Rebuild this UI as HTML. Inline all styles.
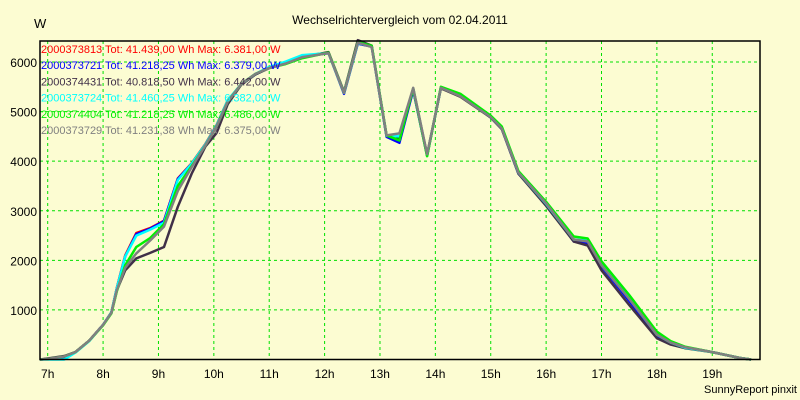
<!DOCTYPE html>
<html><head><meta charset="utf-8"><style>
body{margin:0;background:#fcfcd2;}
svg{display:block;font-family:"Liberation Sans",sans-serif;}
</style></head><body>
<svg id="chart" width="800" height="400">
<rect x="0" y="0" width="800" height="400" fill="#fcfcd2"/>
<text x="400" y="24" text-anchor="middle" font-size="12">Wechselrichtervergleich vom 02.04.2011</text>
<text x="34" y="28" font-size="13">W</text>
<text x="797" y="393" text-anchor="end" font-size="11">SunnyReport pinxit</text>
<g id="grid"></g><g id="series"></g><g id="axes"></g><g id="legend"></g>
</svg>
<script>
const hourTicks=[7,8,9,10,11,12,13,14,15,16,17,18,19];
const valueTicks=[1000,2000,3000,4000,5000,6000];
const times=[6.86,7.0,7.3,7.5,7.75,8.0,8.15,8.25,8.4,8.6,8.85,9.1,9.35,9.6,9.85,10.05,10.25,10.5,10.75,11.0,11.3,11.6,12.07,12.35,12.6,12.85,13.12,13.35,13.6,13.85,14.1,14.45,15.0,15.2,15.5,16.0,16.5,16.75,17.0,17.5,18.0,18.25,18.5,19.0,19.5,19.7];
const red=[0,10,60,150,380,700,950,1450,2100,2550,2650,2800,3650,3960,4350,4730,5230,5550,5750,5880,5980,6120,6190,5380,6380,6320,4500,4420,5450,4120,5490,5340,4900,4680,3780,3150,2420,2380,1900,1200,480,330,250,150,30,0];
const blue=[0,10,50,150,380,700,950,1440,2080,2530,2640,2790,3640,3950,4340,4720,5220,5550,5750,5880,5980,6110,6180,5360,6370,6310,4490,4370,5430,4110,5480,5320,4880,4650,3750,3130,2380,2350,1880,1180,470,320,250,150,30,0];
const black=[0,20,70,150,380,700,950,1400,1800,2040,2150,2270,3080,3750,4300,4570,5150,5550,5750,5880,5990,6100,6200,5400,6440,6330,4510,4450,5450,4130,5470,5300,4880,4650,3750,3100,2380,2300,1800,1100,430,300,230,150,30,0];
const cyan=[0,0,0,140,370,700,950,1440,2080,2500,2620,2760,3620,3950,4340,4720,5230,5560,5760,5900,6010,6140,6180,5380,6380,6320,4510,4500,5460,4120,5490,5330,4900,4680,3770,3140,2420,2400,1920,1230,500,340,240,150,30,0];
const green=[0,10,60,150,380,690,930,1380,1900,2270,2450,2730,3500,3900,4320,4700,5200,5560,5760,5880,5960,6080,6190,5380,6400,6330,4520,4420,5470,4100,5500,5360,4920,4700,3800,3180,2480,2440,1980,1300,560,370,260,150,30,0];
const gray=[0,10,60,150,380,700,940,1400,1850,2140,2400,2680,3400,3880,4320,4700,5200,5560,5760,5880,5970,6100,6180,5380,6390,6300,4520,4560,5480,4140,5480,5310,4890,4660,3770,3150,2420,2380,1900,1220,500,340,250,150,30,0];
const seriesNames=["2000373813","2000373721","2000374431","2000373724","2000374404","2000373729"];
const seriesTotals=["41.439,00","41.218,25","40.818,50","41.460,25","41.218,25","41.231,38"];
const seriesMax=["6.381,00","6.379,00","6.442,00","6.382,00","6.486,00","6.375,00"];
const seriesData=[red,blue,black,cyan,green,gray];
const colors=["#ff0000","#0000ff","#403048","#00ffff","#00f000","#808080"];
const NS="http://www.w3.org/2000/svg";
const L=40,R=760,T=41,B=359.5;
const xs=h=>47.7+(h-7)*55.38;
const ys=v=>B-v*0.04958;
function mk(tag,attrs,parent){const e=document.createElementNS(NS,tag);for(const k in attrs)e.setAttribute(k,attrs[k]);parent.appendChild(e);return e;}
const grid=document.getElementById('grid'),axes=document.getElementById('axes'),sg=document.getElementById('series'),lg=document.getElementById('legend');
mk('rect',{x:L,y:T,width:R-L,height:B-T,fill:'#fcfcd2'},grid);
hourTicks.forEach(h=>{
 const x=xs(h);
 const l=mk('line',{x1:x,x2:x,y1:T,y2:B,stroke:'#00e000','stroke-dasharray':'3,3'},grid);
 
 
 const t=mk('text',{x:x,y:378,'text-anchor':'middle','font-size':'12'},axes);
 t.textContent=h+'h';
 
 
});
valueTicks.forEach(v=>{
 const y=ys(v);
 const l=mk('line',{x1:L,x2:R,y1:y,y2:y,stroke:'#00e000','stroke-dasharray':'3,3'},grid);
 
 
 const t=mk('text',{x:37,y:y+5,'text-anchor':'end','font-size':'12'},axes);
 t.textContent=v;
 
 
});
seriesData.forEach((d,i)=>{
 const pts=d.map((v,j)=>xs(times[j]).toFixed(1)+','+ys(v).toFixed(1)).join(' ');
 const p=mk('polyline',{points:pts,fill:'none',stroke:colors[i],'stroke-width':'2.5','stroke-linejoin':'round'},sg);
 
 
});
const frame=mk('rect',{x:L,y:T,width:R-L,height:B-T,fill:'none',stroke:'#000','stroke-width':'1.5'},axes);


seriesNames.forEach((n,i)=>{
 const t=mk('text',{x:41,y:53+i*16.2,'font-size':'11',fill:colors[i]},lg);
 t.textContent=n+' Tot: '+seriesTotals[i]+' Wh Max: '+seriesMax[i]+' W';
 
 
});
</script>
</body></html>
